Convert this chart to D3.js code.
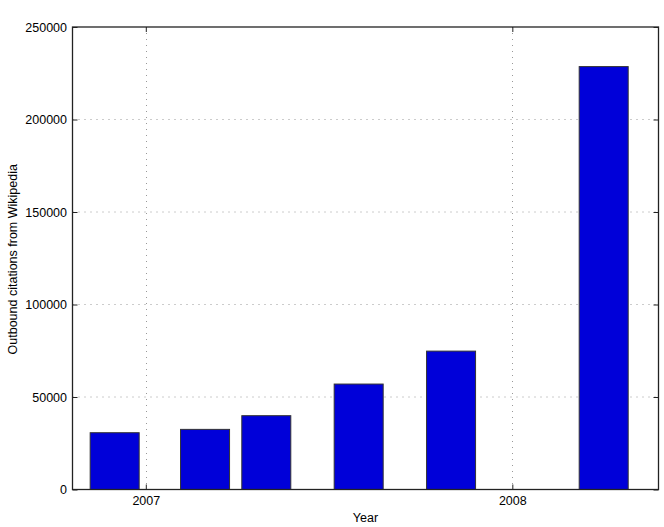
<!DOCTYPE html>
<html>
<head>
<meta charset="utf-8">
<script src="https://cdn.jsdelivr.net/npm/d3@7"></script>
<style>
  body { margin: 0; background: #fff; }
  svg { display: block; }
  text { font-family: "Liberation Sans", Arial, Helvetica, sans-serif; font-size: 12.5px; fill: #000; }
</style>
</head>
<body>
<svg id="chart" width="664" height="527"></svg>
<script>
// Data (bar dates = first of month)
const dates = ["2006-12-01", "2007-03-01", "2007-05-01", "2007-08-01", "2007-11-01", "2008-04-01"];
const citations = [30700, 32500, 39900, 57000, 74800, 228600];
const yTicks = [0, 50000, 100000, 150000, 200000, 250000];
const xTickLabels = ["2007", "2008"];

const W = 664, H = 527;
const m = { left: 72.5, top: 27, right: 658.5, bottom: 489.5 };

const svg = d3.select("#chart");
const parse = d3.utcParse("%Y-%m-%d");
const barDates = dates.map(parse);
const xTickDates = xTickLabels.map(y => parse(y + "-01-01"));

const x = d3.scaleUtc()
  .domain([parse("2006-10-20"), new Date(Date.UTC(2008, 4, 25, 14))])
  .range([m.left, m.right]);
const y = d3.scaleLinear().domain([0, 250000]).range([m.bottom, m.top]);

// Bar width: 0.8 of minimum spacing between bars
let minGap = Infinity;
for (let i = 1; i < barDates.length; i++) {
  minGap = Math.min(minGap, x(barDates[i]) - x(barDates[i - 1]));
}
const bw = 0.8 * minGap;

// Grid
const grid = svg.append("g");
grid.selectAll(".gy").data(yTicks.filter(d => d > 0 && d < 250000)).enter().append("line")
  .attr("x1", m.left).attr("x2", m.right)
  .attr("y1", d => y(d)).attr("y2", d => y(d))
  .attr("stroke", "#999").attr("stroke-width", 1).attr("stroke-dasharray", "1,5");
grid.selectAll(".gx").data(xTickDates).enter().append("line")
  .attr("x1", d => Math.round(x(d)) + 0.5).attr("x2", d => Math.round(x(d)) + 0.5)
  .attr("y1", m.top).attr("y2", m.bottom)
  .attr("stroke", "#999").attr("stroke-width", 1).attr("stroke-dasharray", "1,5");

// Bars
svg.append("g").selectAll("rect").data(citations).enter().append("rect")
  .attr("x", (d, i) => x(barDates[i]) - bw / 2)
  .attr("width", bw)
  .attr("y", d => y(d))
  .attr("height", d => y(0) - y(d))
  .attr("fill", "#0000d9")
  .attr("stroke", "#333")
  .attr("stroke-width", 1);

// Axes (MATLAB style: ticks inward on all sides)
const tl = 5;
const axL = d3.axisLeft(y).tickValues(yTicks).tickSize(-tl).tickPadding(5.5).tickFormat(d3.format("d"));
const axR = d3.axisRight(y).tickValues(yTicks).tickSize(-tl).tickFormat("");
const axB = d3.axisBottom(x).tickValues(xTickDates).tickSize(-tl).tickPadding(7).tickFormat(d3.utcFormat("%Y"));
const axT = d3.axisTop(x).tickValues(xTickDates).tickSize(-tl).tickFormat("");

function style(g) {
  g.select(".domain").remove();
  g.selectAll(".tick line").attr("stroke", "#222");
  g.selectAll("text").attr("font-size", null).attr("font-family", null).attr("fill", "#000");
}
svg.append("g").attr("transform", `translate(${m.left},0)`).call(axL).call(style);
svg.append("g").attr("transform", `translate(${m.right},0)`).call(axR).call(style);
svg.append("g").attr("transform", `translate(0,${m.bottom})`).call(axB).call(style);
svg.append("g").attr("transform", `translate(0,${m.top})`).call(axT).call(style);

// Box
svg.append("rect")
  .attr("x", m.left).attr("y", m.top)
  .attr("width", m.right - m.left).attr("height", m.bottom - m.top)
  .attr("fill", "none").attr("stroke", "#222").attr("stroke-width", 1.3);

// Labels
svg.append("text").attr("x", (m.left + m.right) / 2).attr("y", 522)
  .attr("text-anchor", "middle").attr("font-size", "13px").text("Year");
svg.append("text")
  .attr("transform", `translate(16.5,${(m.top + m.bottom) / 2 + 1}) rotate(-90)`)
  .attr("text-anchor", "middle").attr("font-size", "13.2px").text("Outbound citations from Wikipedia");
</script>
</body>
</html>
